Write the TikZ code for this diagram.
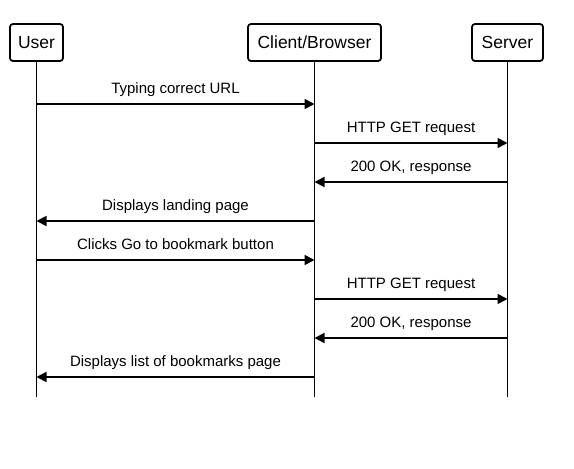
\documentclass[tikz,border=0pt]{standalone}
\usepackage{fontspec}
\setmainfont{Liberation Sans}
\usetikzlibrary{arrows.meta}
\begin{document}
\begin{tikzpicture}[x=1pt,y=-1pt,
  actor/.style={draw,line width=1.8pt,rounded corners=3pt,minimum height=37pt,inner xsep=6pt,font=\fontsize{17.5}{20}\selectfont,fill=white},
  life/.style={line width=1.7pt},
  msg/.style={line width=1.7pt,-{Triangle[length=10pt,width=10pt]}},
  lab/.style={font=\fontsize{15}{17}\selectfont,anchor=base,inner sep=0pt}
]
\useasboundingbox (0,0) rectangle (574,469);
\node[actor,minimum width=53pt] (user) at (36.5,42.5) {User};
\node[actor,minimum width=133pt] (client) at (314.5,42.5) {Client/Browser};
\node[actor,minimum width=71pt] (server) at (507.5,42.5) {Server};
\coordinate (ue) at (36.5,397);
\coordinate (ce) at (314.5,397);
\coordinate (se) at (507.5,397);
\draw[life] (user.south) -- (ue);
\draw[life] (client.south) -- (ce);
\draw[life] (server.south) -- (se);
\foreach \n/\y in {1/104,2/143,3/182,4/221,5/260,6/299,7/338,8/377}{
  \coordinate (u\n) at (36.5,\y);
  \coordinate (c\n) at (314.5,\y);
  \coordinate (s\n) at (507.5,\y);
}
\draw[msg] (u1) -- node[lab,yshift=10.5pt]{Typing correct URL} (c1);
\draw[msg] (c2) -- node[lab,yshift=10.5pt]{HTTP GET request} (s2);
\draw[msg] (s3) -- node[lab,yshift=10.5pt]{200 OK, response} (c3);
\draw[msg] (c4) -- node[lab,yshift=10.5pt]{Displays landing page} (u4);
\draw[msg] (u5) -- node[lab,yshift=10.5pt]{Clicks Go to bookmark button} (c5);
\draw[msg] (c6) -- node[lab,yshift=10.5pt]{HTTP GET request} (s6);
\draw[msg] (s7) -- node[lab,yshift=10.5pt]{200 OK, response} (c7);
\draw[msg] (c8) -- node[lab,yshift=10.5pt]{Displays list of bookmarks page} (u8);
\end{tikzpicture}
\end{document}
